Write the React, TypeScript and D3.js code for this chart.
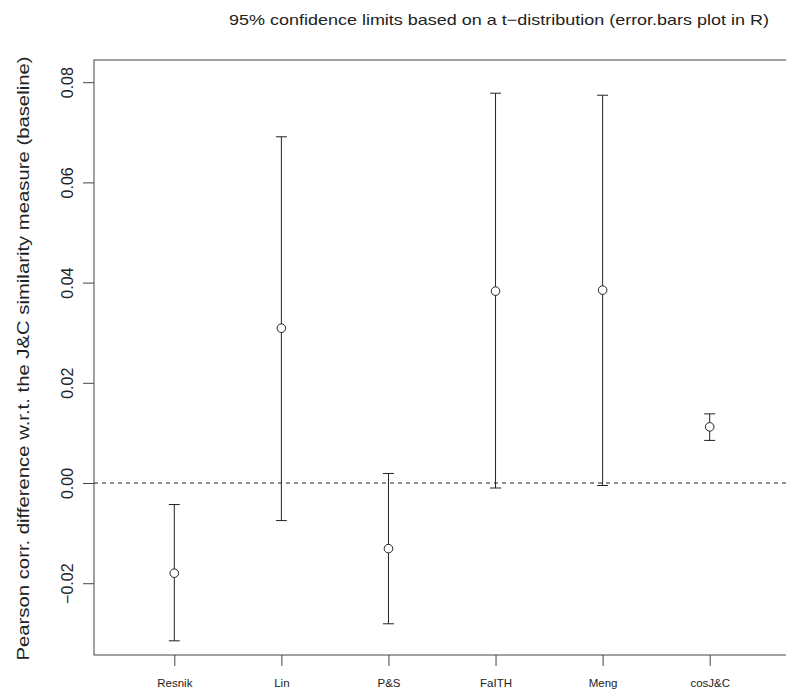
import React, { useRef, useEffect } from 'react';
import * as d3 from 'd3';

const methods = ['Resnik', 'Lin', 'P&S', 'FaITH', 'Meng', 'cosJ&C'];
const means = [-0.018, 0.0309, -0.0131, 0.0383, 0.0385, 0.0112];
const lowers = [-0.0315, -0.0075, -0.0281, -0.001, -0.0005, 0.0085];
const uppers = [-0.0043, 0.0691, 0.0019, 0.0778, 0.0774, 0.0138];
const yTicks = [-0.02, 0, 0.02, 0.04, 0.06, 0.08];

const App = () => {
  const ref = useRef<SVGSVGElement>(null);

  useEffect(() => {
    const svg = d3.select(ref.current);
    svg.selectAll('*').remove();

    const width = 786;
    const height = 692;
    const box = { left: 94, right: 790, top: 60, bottom: 655 };
    const font = 'Liberation Sans, Arial, Helvetica, sans-serif';
    const ink = '#222';

    const x = d3.scaleLinear()
      .domain([0.25, methods.length + 0.75])
      .range([box.left, box.right]);

    const y = d3.scaleLinear()
      .domain([-0.03433, 0.08443])
      .range([box.bottom, box.top]);

    svg.attr('width', width).attr('height', height);

    svg.append('rect')
      .attr('width', width)
      .attr('height', height)
      .attr('fill', '#fff');

    // plot frame
    svg.append('rect')
      .attr('x', box.left)
      .attr('y', box.top)
      .attr('width', box.right - box.left)
      .attr('height', box.bottom - box.top)
      .attr('fill', 'none')
      .attr('stroke', '#444')
      .attr('stroke-width', 1);

    // zero line
    svg.append('line')
      .attr('x1', box.left)
      .attr('x2', box.right)
      .attr('y1', y(0))
      .attr('y2', y(0))
      .attr('stroke', ink)
      .attr('stroke-dasharray', '4,4');

    // error bars
    const g = svg.append('g')
      .attr('stroke', ink)
      .attr('stroke-width', 1)
      .attr('fill', 'none');

    methods.forEach((m, i) => {
      const cx = x(i + 1);
      g.append('line')
        .attr('x1', cx).attr('x2', cx)
        .attr('y1', y(lowers[i])).attr('y2', y(uppers[i]));
      [lowers[i], uppers[i]].forEach(v => {
        g.append('line')
          .attr('x1', cx - 5.5).attr('x2', cx + 5.5)
          .attr('y1', y(v)).attr('y2', y(v));
      });
      g.append('circle')
        .attr('cx', cx)
        .attr('cy', y(means[i]))
        .attr('r', 4.3)
        .attr('fill', '#fff');
    });

    // y axis
    const yAxis = svg.append('g')
      .attr('transform', `translate(${box.left},0)`)
      .call(d3.axisLeft(y).tickValues(yTicks).tickSize(11).tickFormat(d3.format('.2f')));
    yAxis.select('.domain').remove();
    yAxis.selectAll('line').attr('stroke', '#444');
    yAxis.selectAll('text')
      .attr('font-family', font)
      .attr('font-size', 16)
      .attr('fill', ink)
      .attr('text-anchor', 'middle')
      .attr('x', 0)
      .attr('y', 0)
      .attr('dy', 0)
      .attr('transform', 'translate(-21,0) rotate(-90)')
      .text(d => d3.format('.2f')(d as number));

    // x axis
    const xAxis = svg.append('g')
      .attr('transform', `translate(0,${box.bottom})`)
      .call(d3.axisBottom(x)
        .tickValues(methods.map((_, i) => i + 1))
        .tickSize(11)
        .tickFormat((_, i) => methods[i]));
    xAxis.select('.domain').remove();
    xAxis.selectAll('line').attr('stroke', '#444');
    xAxis.selectAll('text')
      .attr('font-family', font)
      .attr('font-size', 11.5)
      .attr('fill', ink)
      .attr('y', 32)
      .attr('dy', 0);

    // axis title
    svg.append('text')
      .attr('transform', `translate(29,${(box.top + box.bottom) / 2 + 1}) rotate(-90)`)
      .attr('text-anchor', 'middle')
      .attr('font-family', font)
      .attr('font-size', 16.5)
      .attr('textLength', 604)
      .attr('lengthAdjust', 'spacingAndGlyphs')
      .attr('fill', ink)
      .text('Pearson corr. difference w.r.t. the J&C similarity measure (baseline)');

    // main title
    svg.append('text')
      .attr('x', 499)
      .attr('y', 25)
      .attr('text-anchor', 'middle')
      .attr('font-family', font)
      .attr('font-size', 15)
      .attr('textLength', 540)
      .attr('lengthAdjust', 'spacingAndGlyphs')
      .attr('fill', ink)
      .text('95% confidence limits based on a t\u2212distribution (error.bars plot in R)');
  }, []);

  return <svg ref={ref} style={{ position: 'absolute', left: 0, top: 0 }}></svg>;
};

export default App;
